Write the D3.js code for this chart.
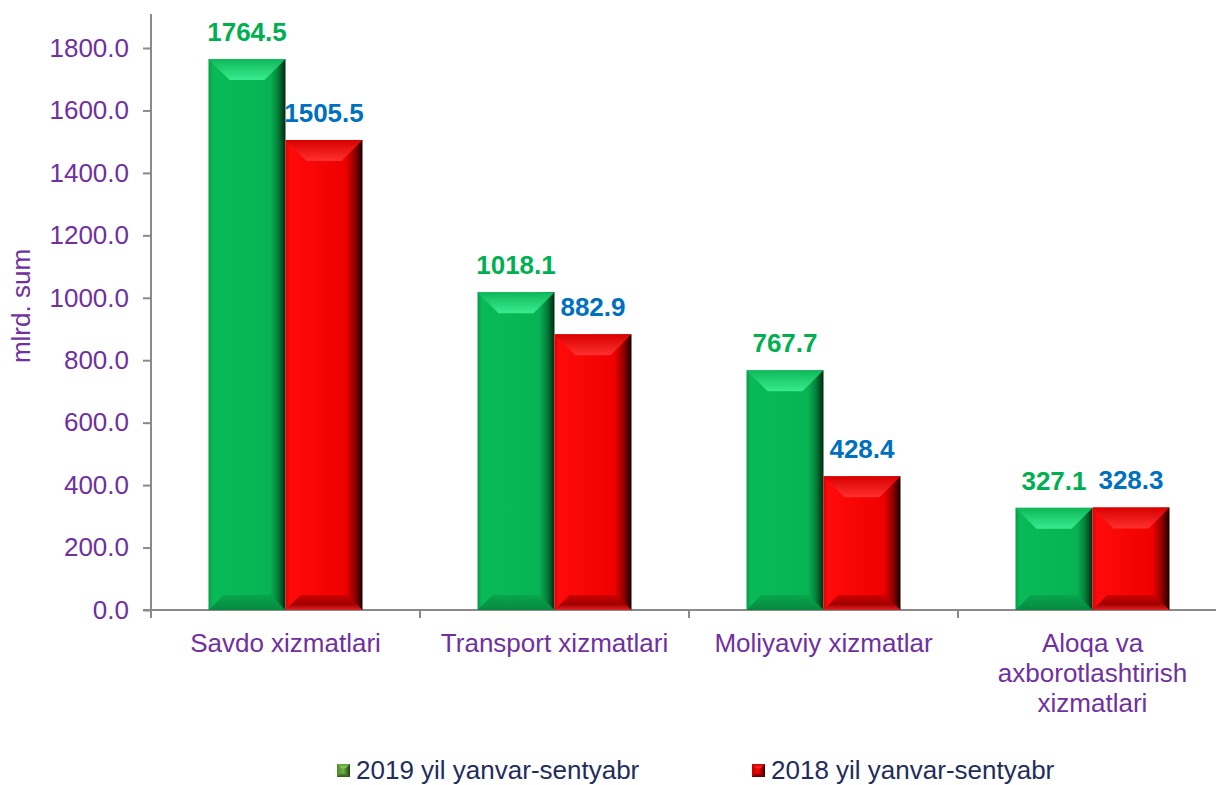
<!DOCTYPE html>
<html>
<head>
<meta charset="utf-8">
<script src="https://cdn.jsdelivr.net/npm/d3@7"></script>
<style>
  body { margin: 0; background: #fff; }
  svg { display: block; font-family: "Liberation Sans", Arial, sans-serif; }
</style>
</head>
<body>
<svg id="chart" width="1216" height="785"></svg>
<script>
// data
const categories = ["Savdo xizmatlari", "Transport xizmatlari", "Moliyaviy xizmatlar", "Aloqa va|axborotlashtirish|xizmatlari"];
const series_names = ["2019 yil yanvar-sentyabr", "2018 yil yanvar-sentyabr"];
const values_2019 = [1764.5, 1018.1, 767.7, 327.1];
const values_2018 = [1505.5, 882.9, 428.4, 328.3];
const y_ticks = [0, 200, 400, 600, 800, 1000, 1200, 1400, 1600, 1800];

const purple = "#7030A0";
const label_colors = ["#00B050", "#0070C0"];

const svg = d3.select("#chart");
const defs = svg.append("defs");

// gradients for the bevelled bars
function hgrad(id, stops) {
  const g = defs.append("linearGradient").attr("id", id)
    .attr("x1", "0%").attr("x2", "100%").attr("y1", "0%").attr("y2", "0%");
  stops.forEach(s => g.append("stop").attr("offset", s[0]).attr("stop-color", s[1]));
}
function vgrad(id, stops) {
  const g = defs.append("linearGradient").attr("id", id)
    .attr("x1", "0%").attr("x2", "0%").attr("y1", "0%").attr("y2", "100%");
  stops.forEach(s => g.append("stop").attr("offset", s[0]).attr("stop-color", s[1]));
}
hgrad("g_body", [["0%", "#079c49"], ["6%", "#08bb57"], ["80%", "#07b353"], ["90%", "#05803a"], ["100%", "#012a10"]]);
vgrad("g_top", [["0%", "#0fb85a"], ["100%", "#38ec8e"]]);
vgrad("g_bot", [["0%", "#08a54e"], ["100%", "#058a3f"]]);
hgrad("r_body", [["0%", "#e00000"], ["6%", "#ff0a0a"], ["78%", "#f00000"], ["90%", "#900000"], ["100%", "#1a0000"]]);
vgrad("r_top", [["0%", "#d80000"], ["100%", "#ff3030"]]);
vgrad("r_bot", [["0%", "#d00000"], ["60%", "#a00000"], ["100%", "#e02020"]]);
hgrad("lg_body", [["0%", "#4d8a2e"], ["50%", "#6fb045"], ["100%", "#1e3a10"]]);
vgrad("lg_top", [["0%", "#5e9e3a"], ["100%", "#8fd060"]]);
vgrad("lg_bot", [["0%", "#4d8a2e"], ["100%", "#2e5a18"]]);
hgrad("lr_body", [["0%", "#c00000"], ["50%", "#ff0000"], ["100%", "#300000"]]);
vgrad("lr_top", [["0%", "#d00000"], ["100%", "#ff3030"]]);
vgrad("lr_bot", [["0%", "#a00000"], ["100%", "#600000"]]);

const margin = {top: 48, left: 151, right: 1227, bottom: 610};

const x_scale = d3.scaleBand()
  .domain(categories)
  .range([margin.left, margin.right]);

const sub_scale = d3.scaleBand()
  .domain(series_names)
  .range([0, 154]);

const y_scale = d3.scaleLinear()
  .domain([0, 1800])
  .range([margin.bottom, margin.top]);

const bar_off = (x_scale.bandwidth() - 154) / 2;

// y axis
const y_axis = svg.append("g")
  .attr("transform", "translate(" + margin.left + ",0)")
  .call(d3.axisLeft(y_scale).tickValues(y_ticks).tickFormat(d3.format(".1f")).tickSize(8).tickSizeOuter(0));
y_axis.select(".domain").attr("stroke", "#8a8a8a").attr("stroke-width", 2)
  .attr("d", "M0," + (margin.top - 34) + "V" + margin.bottom);
y_axis.selectAll(".tick line").attr("stroke", "#8a8a8a").attr("stroke-width", 2);
y_axis.selectAll(".tick text")
  .attr("x", -22)
  .attr("fill", purple)
  .style("font-size", "26px")
  .style("font-family", "'Liberation Sans', Arial, sans-serif");

// x axis line with ticks at category borders
const bounds = categories.map(c => x_scale(c)).concat([margin.right]);
svg.append("line")
  .attr("x1", margin.left - 8).attr("x2", margin.right)
  .attr("y1", margin.bottom).attr("y2", margin.bottom)
  .attr("stroke", "#8a8a8a").attr("stroke-width", 2);
svg.selectAll(".xtick").data(bounds).enter().append("line")
  .attr("x1", d => d).attr("x2", d => d)
  .attr("y1", margin.bottom).attr("y2", margin.bottom + 8)
  .attr("stroke", "#8a8a8a").attr("stroke-width", 2);

// category labels
categories.forEach(function(c) {
  const lines = c.split("|");
  const t = svg.append("text")
    .attr("text-anchor", "middle")
    .attr("fill", purple)
    .style("font-size", "26px");
  lines.forEach(function(l, i) {
    t.append("tspan")
      .attr("x", x_scale(c) + x_scale.bandwidth() / 2)
      .attr("y", 652 + i * 30)
      .text(l);
  });
});

// axis title
svg.append("text")
  .attr("transform", "translate(30,306) rotate(-90)")
  .attr("text-anchor", "middle")
  .attr("fill", purple)
  .style("font-size", "26px")
  .text("mlrd. sum");

// bevelled bar
function draw_bar(g, x, y, w, h, kind) {
  const b = Math.min(21, h / 3);
  const bb = Math.min(15, h / 4);
  g.append("rect").attr("x", x).attr("y", y).attr("width", w).attr("height", h)
    .attr("fill", "url(#" + kind + "_body)");
  g.append("polygon")
    .attr("points", [[x, y], [x + w, y], [x + w - b, y + b], [x + b, y + b]].join(" "))
    .attr("fill", "url(#" + kind + "_top)");
  g.append("polygon")
    .attr("points", [[x, y + h], [x + w, y + h], [x + w - bb, y + h - bb], [x + bb, y + h - bb]].join(" "))
    .attr("fill", "url(#" + kind + "_bot)");
}

const series = [values_2019, values_2018];
const kinds = ["g", "r"];

series.forEach(function(vals, si) {
  const g = svg.append("g");
  vals.forEach(function(v, ci) {
    const x = x_scale(categories[ci]) + bar_off + sub_scale(series_names[si]);
    const y = y_scale(v);
    draw_bar(g, x, y, sub_scale.bandwidth(), y_scale(0) - y, kinds[si]);
    svg.append("text")
      .attr("x", x + sub_scale.bandwidth() / 2)
      .attr("y", y - 18)
      .attr("text-anchor", "middle")
      .attr("fill", label_colors[si])
      .style("font-size", "26px")
      .style("font-weight", "bold")
      .text(d3.format(".1f")(v));
  });
});

// legend
const legend_x = [337, 752];
series_names.forEach(function(n, i) {
  const lg = svg.append("g");
  draw_bar(lg, legend_x[i], 764, 13, 13, "l" + kinds[i]);
  lg.append("text")
    .attr("x", legend_x[i] + 19)
    .attr("y", 779)
    .attr("fill", "#1F2D5C")
    .style("font-size", "26px")
    .text(n);
});
</script>
</body>
</html>
